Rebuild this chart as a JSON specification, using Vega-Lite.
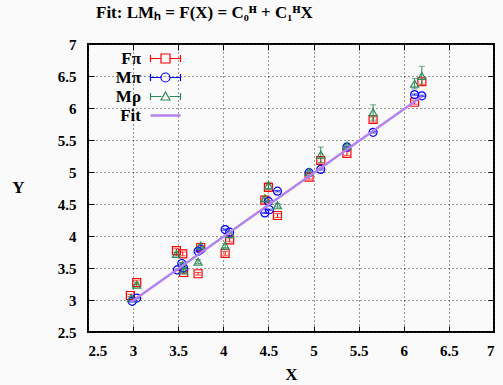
{
  "$schema": "https://vega.github.io/schema/vega-lite/v6.json",
  "width": 406,
  "height": 288,
  "autosize": {"type": "none"},
  "padding": {"left": 88, "top": 44, "right": 9, "bottom": 53},
  "background": "#fafafa",
  "title": {"text": "Fit: LMₕ = F(X) = C₀ᴴ + C₁ᴴX", "anchor": "start", "frame": "group", "dx": 8, "offset": 15, "font": "Liberation Serif", "fontSize": 17, "fontWeight": "bold", "color": "#000"},
  "config": {
    "view": {"stroke": "#000", "strokeWidth": 2},
    "axis": {
      "labelFont": "Liberation Serif", "labelFontSize": 15, "labelFontWeight": "bold", "labelColor": "#000",
      "titleFont": "Liberation Serif", "titleFontSize": 17, "titleFontWeight": "bold", "titleColor": "#000",
      "domain": false, "tickColor": "#000", "tickSize": -6, "tickWidth": 1,
      "gridColor": "#333", "gridDash": [1, 3], "gridWidth": 1, "gridOpacity": 1
    }
  },
  "datasets": {
    "pts": [
      {"series": "Fπ", "x": 2.97, "y": 3.07, "err": 0.02},
      {"series": "Fπ", "x": 3.04, "y": 3.27, "err": 0.03},
      {"series": "Fπ", "x": 3.48, "y": 3.77, "err": 0.03},
      {"series": "Fπ", "x": 3.55, "y": 3.72, "err": 0.03},
      {"series": "Fπ", "x": 3.56, "y": 3.43, "err": 0.02},
      {"series": "Fπ", "x": 3.72, "y": 3.41, "err": 0.02},
      {"series": "Fπ", "x": 3.75, "y": 3.82, "err": 0.03},
      {"series": "Fπ", "x": 4.02, "y": 3.73, "err": 0.03},
      {"series": "Fπ", "x": 4.07, "y": 3.94, "err": 0.03},
      {"series": "Fπ", "x": 4.46, "y": 4.56, "err": 0.03},
      {"series": "Fπ", "x": 4.5, "y": 4.76, "err": 0.04},
      {"series": "Fπ", "x": 4.6, "y": 4.32, "err": 0.03},
      {"series": "Fπ", "x": 4.95, "y": 4.92, "err": 0.03},
      {"series": "Fπ", "x": 5.08, "y": 5.18, "err": 0.04},
      {"series": "Fπ", "x": 5.37, "y": 5.29, "err": 0.03},
      {"series": "Fπ", "x": 5.66, "y": 5.82, "err": 0.04},
      {"series": "Fπ", "x": 6.12, "y": 6.09, "err": 0.03},
      {"series": "Fπ", "x": 6.2, "y": 6.41, "err": 0.04},
      {"series": "Mπ", "x": 2.99, "y": 2.98, "err": 0.01},
      {"series": "Mπ", "x": 3.04, "y": 3.03, "err": 0.01},
      {"series": "Mπ", "x": 3.49, "y": 3.47, "err": 0.01},
      {"series": "Mπ", "x": 3.54, "y": 3.57, "err": 0.01},
      {"series": "Mπ", "x": 3.56, "y": 3.5, "err": 0.01},
      {"series": "Mπ", "x": 3.72, "y": 3.76, "err": 0.01},
      {"series": "Mπ", "x": 3.75, "y": 3.79, "err": 0.01},
      {"series": "Mπ", "x": 4.02, "y": 4.1, "err": 0.01},
      {"series": "Mπ", "x": 4.07, "y": 4.06, "err": 0.01},
      {"series": "Mπ", "x": 4.46, "y": 4.36, "err": 0.01},
      {"series": "Mπ", "x": 4.51, "y": 4.41, "err": 0.01},
      {"series": "Mπ", "x": 4.5, "y": 4.54, "err": 0.01},
      {"series": "Mπ", "x": 4.6, "y": 4.7, "err": 0.01},
      {"series": "Mπ", "x": 4.95, "y": 4.99, "err": 0.01},
      {"series": "Mπ", "x": 5.08, "y": 5.04, "err": 0.01},
      {"series": "Mπ", "x": 5.37, "y": 5.39, "err": 0.01},
      {"series": "Mπ", "x": 5.66, "y": 5.62, "err": 0.01},
      {"series": "Mπ", "x": 6.12, "y": 6.21, "err": 0.01},
      {"series": "Mπ", "x": 6.2, "y": 6.19, "err": 0.01},
      {"series": "Mρ", "x": 2.98, "y": 3.03, "err": 0.02},
      {"series": "Mρ", "x": 3.04, "y": 3.24, "err": 0.03},
      {"series": "Mρ", "x": 3.48, "y": 3.72, "err": 0.03},
      {"series": "Mρ", "x": 3.55, "y": 3.55, "err": 0.03},
      {"series": "Mρ", "x": 3.56, "y": 3.46, "err": 0.03},
      {"series": "Mρ", "x": 3.72, "y": 3.6, "err": 0.03},
      {"series": "Mρ", "x": 3.75, "y": 3.85, "err": 0.03},
      {"series": "Mρ", "x": 4.02, "y": 3.85, "err": 0.03},
      {"series": "Mρ", "x": 4.07, "y": 4.03, "err": 0.03},
      {"series": "Mρ", "x": 4.46, "y": 4.59, "err": 0.03},
      {"series": "Mρ", "x": 4.5, "y": 4.79, "err": 0.05},
      {"series": "Mρ", "x": 4.6, "y": 4.48, "err": 0.03},
      {"series": "Mρ", "x": 4.95, "y": 5.0, "err": 0.03},
      {"series": "Mρ", "x": 5.08, "y": 5.27, "err": 0.12},
      {"series": "Mρ", "x": 5.37, "y": 5.41, "err": 0.04},
      {"series": "Mρ", "x": 5.66, "y": 5.93, "err": 0.12},
      {"series": "Mρ", "x": 6.12, "y": 6.38, "err": 0.08},
      {"series": "Mρ", "x": 6.2, "y": 6.5, "err": 0.15}
    ],
    "fit": [
      {"series": "Fit", "x": 2.97, "y": 2.96},
      {"series": "Fit", "x": 6.2, "y": 6.18}
    ]
  },
  "layer": [
    {
      "data": {"name": "pts"},
      "mark": {"type": "point", "filled": false, "opacity": 0},
      "encoding": {
        "x": {"field": "x", "type": "quantitative", "title": "X",
          "scale": {"domain": [2.5, 7], "nice": false, "zero": false},
          "axis": {"values": [2.5, 3, 3.5, 4, 4.5, 5, 5.5, 6, 6.5, 7], "format": "~g", "labelPadding": 17, "grid": true, "titleX": 203, "titleY": 42, "titleBaseline": "middle", "titleAlign": "center"}},
        "y": {"field": "y", "type": "quantitative", "title": "Y",
          "scale": {"domain": [2.5, 7], "nice": false, "zero": false},
          "axis": {"values": [2.5, 3, 3.5, 4, 4.5, 5, 5.5, 6, 6.5, 7], "format": "~g", "labelPadding": 18, "grid": true, "titleAngle": 0, "titleX": -70, "titleY": 143, "titleBaseline": "middle", "titleAlign": "center"}},
        "color": {"field": "series", "type": "nominal",
          "scale": {"domain": ["Fπ", "Mπ", "Mρ", "Fit"], "range": ["#ff0000", "#0000ff", "#2e8b57", "#b482f0"]},
          "legend": {"title": null, "orient": "none", "legendX": 69, "legendY": 6,
            "labelFont": "Liberation Serif", "labelFontSize": 17, "labelFontWeight": "bold", "labelColor": "#000",
            "labelAlign": "right", "labelOffset": -33, "symbolSize": 400, "rowPadding": 1, "symbolOpacity": 1,
            "symbolType": {"expr": "datum.value === 'Fit' ? 'M-1.5,0H1.5' : datum.value === 'Fπ' ? 'M-1.5,0H-0.45M0.45,0H1.5M-1.5,-0.35V0.35M1.5,-0.35V0.35M-0.45,-0.45H0.45V0.45H-0.45Z' : datum.value === 'Mπ' ? 'M-1.5,0H-0.45M0.45,0H1.5M-1.5,-0.35V0.35M1.5,-0.35V0.35M0.45,0A0.45,0.45,0,1,1,-0.45,0A0.45,0.45,0,1,1,0.45,0Z' : 'M-1.5,0H-0.4M0.4,0H1.5M-1.5,-0.35V0.35M1.5,-0.35V0.35M0,-0.45L0.45,0.35H-0.45Z'"},
            "symbolStrokeWidth": {"expr": "datum.value === 'Fit' ? 2.5 : 1.2"}
          }}
      }
    },
    {
      "data": {"name": "pts"},
      "transform": [{"filter": "datum.series === 'Fπ'"}],
      "mark": {"type": "errorbar", "ticks": {"size": 6}, "thickness": 1, "color": "#ff0000"},
      "encoding": {
        "x": {"field": "x", "type": "quantitative", "axis": null},
        "y": {"field": "y", "type": "quantitative", "axis": null},
        "yError": {"field": "err"}
      }
    },
    {
      "data": {"name": "pts"},
      "transform": [{"filter": "datum.series === 'Mπ'"}],
      "mark": {"type": "errorbar", "ticks": {"size": 6}, "thickness": 1, "color": "#0000ff"},
      "encoding": {
        "x": {"field": "x", "type": "quantitative", "axis": null},
        "y": {"field": "y", "type": "quantitative", "axis": null},
        "yError": {"field": "err"}
      }
    },
    {
      "data": {"name": "pts"},
      "transform": [{"filter": "datum.series === 'Mρ'"}],
      "mark": {"type": "errorbar", "ticks": {"size": 6}, "thickness": 1, "color": "#2e8b57"},
      "encoding": {
        "x": {"field": "x", "type": "quantitative", "axis": null},
        "y": {"field": "y", "type": "quantitative", "axis": null},
        "yError": {"field": "err"}
      }
    },
    {
      "data": {"name": "pts"},
      "mark": {"type": "point", "filled": false, "strokeWidth": 1.2, "size": 64, "opacity": 1},
      "encoding": {
        "x": {"field": "x", "type": "quantitative", "axis": null},
        "y": {"field": "y", "type": "quantitative", "axis": null},
        "color": {"field": "series", "type": "nominal", "legend": null},
        "shape": {"field": "series", "type": "nominal", "scale": {"domain": ["Fπ", "Mπ", "Mρ"], "range": ["square", "circle", "triangle-up"]}, "legend": null}
      }
    },
    {
      "data": {"name": "fit"},
      "mark": {"type": "line", "strokeWidth": 2.5, "color": "#b482f0"},
      "encoding": {
        "x": {"field": "x", "type": "quantitative", "axis": null},
        "y": {"field": "y", "type": "quantitative", "axis": null}
      }
    },
    {
      "data": {"name": "fit"},
      "mark": {"type": "point", "opacity": 0},
      "encoding": {
        "x": {"field": "x", "type": "quantitative", "axis": {"orient": "top", "values": [2.5, 3, 3.5, 4, 4.5, 5, 5.5, 6, 6.5, 7], "labels": false, "grid": false, "title": null}},
        "y": {"field": "y", "type": "quantitative", "axis": {"orient": "right", "values": [2.5, 3, 3.5, 4, 4.5, 5, 5.5, 6, 6.5, 7], "labels": false, "grid": false, "title": null}}
      }
    }
  ],
  "resolve": {"axis": {"x": "independent", "y": "independent"}}
}
